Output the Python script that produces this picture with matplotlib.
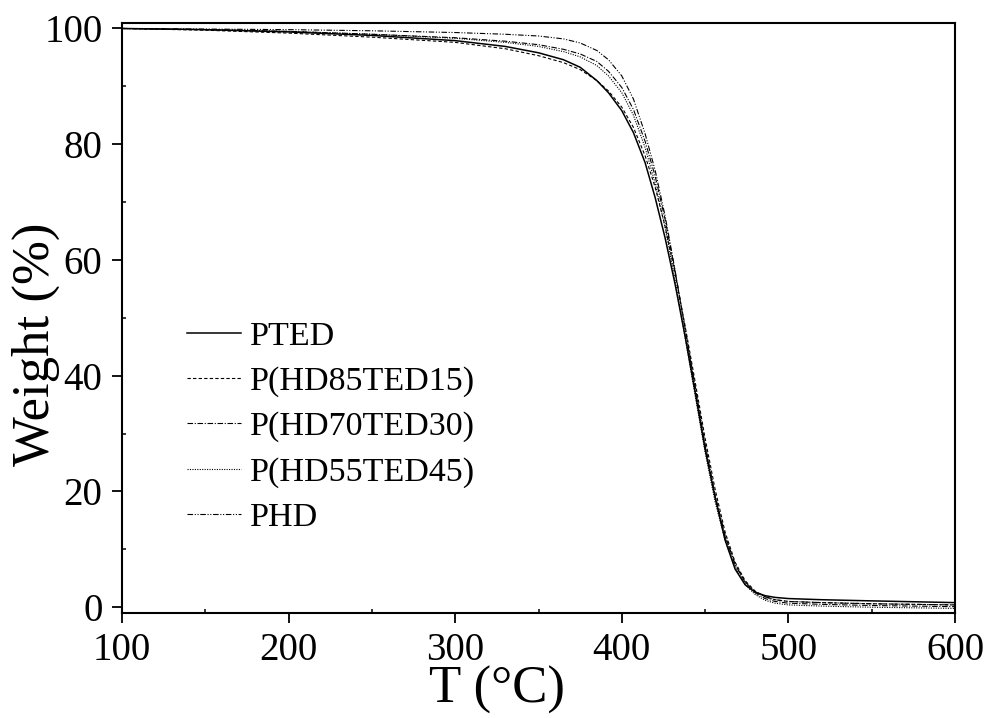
import matplotlib
matplotlib.use("Agg")
import matplotlib.pyplot as plt
from matplotlib.ticker import MultipleLocator

# Temperature grid (°C) shared by all TGA curves
temp = [100, 150, 200, 250, 300, 330, 350, 365, 375, 385, 392, 400, 407, 414,
        420, 426, 432, 438, 444, 450, 456, 462, 468, 474, 480, 486, 492, 500,
        520, 550, 600]

# Weight (%)
w_pted = [100, 99.8, 99.4, 98.8, 97.9, 96.9, 95.8, 94.6, 93.3, 91.0, 88.9, 85.8,
          82.0, 76.8, 70.8, 63.8, 55.8, 46.8, 37.2, 27.3, 19.0, 11.6, 6.6, 3.9,
          2.6, 2.0, 1.7, 1.5, 1.3, 1.1, 0.8]
w_hd85 = [100, 99.7, 99.2, 98.5, 97.6, 96.5, 95.3, 94.1, 92.9, 91.0, 89.2, 86.4,
          82.9, 78.0, 72.6, 65.8, 57.6, 48.6, 39.0, 29.2, 20.4, 13.0, 7.8, 4.6,
          2.8, 1.8, 1.3, 1.0, 0.8, 0.6, 0.4]
w_hd70 = [100, 99.8, 99.5, 99.0, 98.4, 97.8, 97.2, 96.4, 95.6, 94.3, 92.6, 89.8,
          86.0, 80.5, 74.5, 67.0, 58.0, 48.2, 38.2, 28.2, 19.4, 12.4, 7.4, 4.3,
          2.5, 1.5, 1.0, 0.7, 0.5, 0.3, 0.1]
w_hd55 = [100, 99.8, 99.5, 99.0, 98.3, 97.6, 96.9, 96.0, 95.1, 93.6, 91.8, 88.9,
          85.0, 79.4, 73.3, 65.6, 56.5, 46.6, 36.6, 26.8, 18.2, 11.6, 6.9, 3.9,
          2.2, 1.2, 0.7, 0.4, 0.2, 0.0, -0.2]
w_phd = [100, 99.9, 99.8, 99.6, 99.3, 99.0, 98.7, 98.2, 97.5, 96.2, 94.6, 91.8,
         87.8, 81.8, 75.5, 67.6, 58.2, 48.0, 37.8, 27.8, 19.0, 12.2, 7.4, 4.4,
         2.7, 1.8, 1.3, 1.0, 0.8, 0.6, 0.4]

labels = ["PTED", "P(HD85TED15)", "P(HD70TED30)", "P(HD55TED45)", "PHD"]

plt.rcParams['font.family'] = ['Liberation Serif', 'DejaVu Serif']

fig = plt.figure(figsize=(9.89, 7.18), dpi=100)
ax = fig.add_axes([0.1234, 0.1462, 0.8422, 0.8222])

ax.plot(temp, w_pted, color='black', lw=1.1, ls='-', label=labels[0])
ax.plot(temp, w_hd85, color='black', lw=0.8, ls=(0, (3, 2)), label=labels[1])
ax.plot(temp, w_hd70, color='black', lw=0.8, ls=(0, (5, 1.5, 1, 1.5)), label=labels[2])
ax.plot(temp, w_hd55, color='black', lw=0.8, ls=(0, (1, 1.2)), label=labels[3])
ax.plot(temp, w_phd, color='black', lw=0.8, ls=(0, (5, 1.5, 1, 1.5, 1, 1.5)), label=labels[4])

ax.set_xlim(100, 600)
ax.set_ylim(-1, 101)
ax.xaxis.set_major_locator(MultipleLocator(100))
ax.xaxis.set_minor_locator(MultipleLocator(50))
ax.yaxis.set_major_locator(MultipleLocator(20))
ax.yaxis.set_minor_locator(MultipleLocator(10))

for sp in ax.spines.values():
    sp.set_linewidth(1.5)
ax.tick_params(which='major', direction='out', length=7, width=1.3,
               labelsize=28)
ax.tick_params(axis='x', which='major', pad=7)
ax.tick_params(axis='y', which='major', pad=7)
ax.tick_params(which='minor', direction='in', length=3, width=1.1)

# axis titles: a bit bigger than tick labels, placed like the original
ax.set_xlabel("T (°C)", fontsize=38)
ax.set_ylabel("Weight (%)", fontsize=38)
ax.xaxis.set_label_coords(0.450, -0.090)
ax.yaxis.set_label_coords(-0.075, 0.455)

ax.legend(loc='upper left', bbox_to_anchor=(0.078, 0.495), frameon=False,
          fontsize=24.5, handlelength=1.6, handletextpad=0.25,
          labelspacing=0.42, borderpad=0, borderaxespad=0)

plt.savefig('out.png', dpi=100)
